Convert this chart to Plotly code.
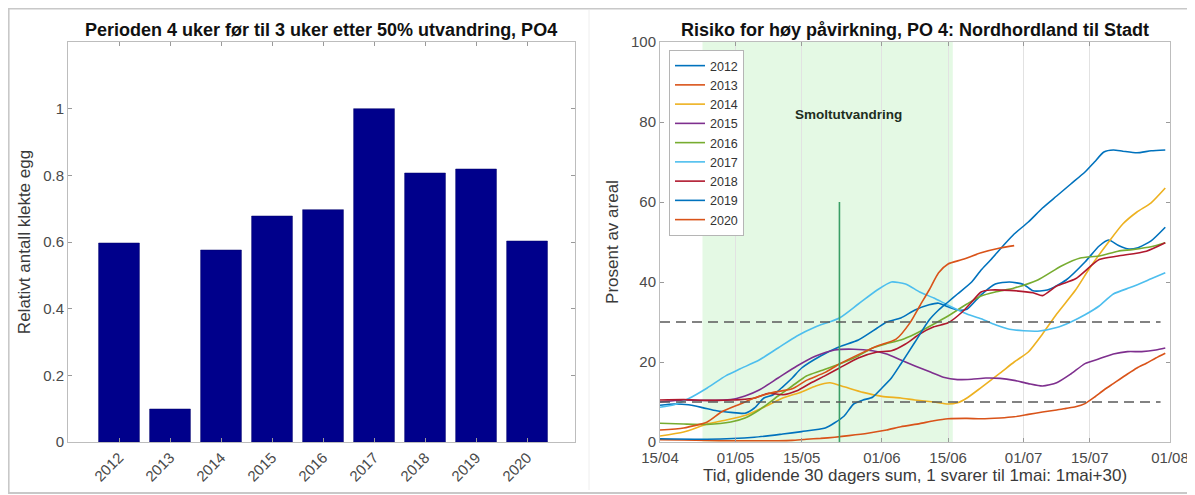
import pandas as pd
import plotly.graph_objects as go

# ---------------- data ----------------
years = ["2012", "2013", "2014", "2015", "2016", "2017", "2018", "2019", "2020"]
rel_eggs = [0.597, 0.099, 0.576, 0.678, 0.697, 1.0, 0.807, 0.819, 0.603]

base_date = "2020-04-15"

d2012 = [0, 3, 6, 9, 12, 15, 18, 20, 22, 24, 26, 28, 30, 34, 38, 42, 46, 48, 51, 54, 57, 59, 61, 63, 65, 68, 71, 74, 77, 79, 82, 86, 90, 93, 95, 97, 99, 101, 104, 107]
v2012 = [9.2, 9.5, 9.3, 8.6, 7.8, 7.4, 7.2, 8.5, 11.0, 11.8, 13.8, 16.0, 18.5, 21.5, 23.8, 25.5, 28.5, 30.0, 31.0, 33.0, 34.3, 34.7, 33.8, 33.0, 33.2, 36.8, 39.5, 40.0, 39.4, 37.8, 38.0, 40.5, 45.0, 49.0, 50.5, 49.2, 48.3, 48.5, 50.3, 53.7]

d2013 = [0, 5, 10, 15, 20, 25, 28, 31, 34, 37, 40, 44, 48, 51, 55, 58, 61, 65, 68, 72, 75, 78, 81, 84, 86, 88, 90, 92, 94, 96, 99, 101, 103, 105, 107]
v2013 = [0.6, 0.5, 0.4, 0.3, 0.3, 0.3, 0.4, 0.7, 0.9, 1.2, 1.6, 2.2, 3.0, 3.8, 4.6, 5.3, 5.8, 5.9, 5.8, 6.0, 6.3, 6.9, 7.5, 8.0, 8.4, 8.8, 9.6, 11.2, 13.0, 14.6, 17.0, 18.5, 19.7, 21.0, 22.2]

d2014 = [0, 5, 10, 14, 18, 22, 26, 30, 33, 36, 39, 43, 47, 51, 54, 58, 61, 63, 65, 68, 72, 75, 78, 81, 84, 88, 91, 95, 98, 101, 104, 107]
v2014 = [1.5, 2.5, 4.5, 5.5, 6.6, 8.7, 11.0, 12.5, 14.0, 14.8, 13.8, 12.4, 11.4, 11.0, 10.5, 10.0, 9.5, 9.8, 11.0, 13.6, 17.2, 20.0, 22.5, 27.0, 32.0, 38.0, 43.5, 50.0, 54.5, 57.5, 59.8, 63.5]

d2015 = [0, 5, 10, 15, 18, 21, 25, 29, 33, 37, 41, 45, 48, 51, 54, 57, 60, 63, 66, 69, 72, 75, 78, 81, 84, 87, 90, 93, 96, 99, 102, 105, 107]
v2015 = [10.0, 10.5, 10.4, 10.6, 11.5, 13.0, 16.0, 19.0, 21.5, 23.0, 23.2, 22.8, 22.0, 20.5, 19.0, 17.6, 16.2, 15.6, 15.7, 16.0, 15.9, 15.4, 14.6, 14.0, 14.8, 17.0, 19.6, 20.8, 22.0, 22.6, 22.6, 23.0, 23.5]

d2016 = [0, 5, 10, 15, 18, 21, 25, 28, 31, 34, 38, 42, 45, 48, 51, 54, 58, 61, 65, 68, 71, 75, 80, 85, 89, 93, 97, 100, 104, 107]
v2016 = [4.7, 4.5, 4.4, 5.0, 6.0, 8.0, 11.5, 14.0, 16.5, 17.8, 19.5, 21.5, 23.5, 24.6, 25.5, 27.0, 29.5, 31.5, 34.5, 36.5, 37.5, 38.5, 40.5, 44.0, 46.0, 46.5, 47.7, 48.1, 48.8, 49.8]

d2017 = [0, 3, 6, 10, 14, 17, 21, 25, 29, 33, 38, 42, 46, 49, 52, 55, 58, 61, 65, 68, 71, 74, 77, 80, 84, 87, 90, 93, 96, 100, 104, 107]
v2017 = [8.7, 9.3, 10.8, 13.5, 16.6, 18.3, 20.5, 23.5, 26.5, 28.8, 31.0, 34.5, 38.0, 40.0, 39.5, 37.5, 36.0, 34.2, 32.0, 30.8, 29.3, 28.2, 27.8, 27.7, 28.6, 30.0, 31.8, 34.0, 37.0, 38.8, 40.8, 42.3]

d2018 = [0, 5, 10, 15, 17, 20, 23, 26, 29, 32, 35, 38, 42, 46, 49, 52, 55, 58, 61, 64, 66, 68, 70, 74, 79, 81, 84, 88, 93, 97, 103, 107]
v2018 = [10.5, 10.6, 10.4, 10.5, 10.6, 11.0, 12.2, 11.8, 12.8, 14.8, 16.6, 18.5, 21.0, 22.5, 22.8, 24.5, 27.0, 28.8, 29.8, 32.5, 35.0, 37.5, 38.0, 37.9, 37.3, 36.6, 39.0, 40.8, 45.6, 46.5, 47.7, 49.8]

d2019 = [0, 10, 20, 26, 30, 35, 37, 39, 41, 43, 45, 47, 49, 51, 54, 57, 59, 61, 63, 66, 68, 70, 73, 75, 78, 81, 84, 87, 90, 92, 94, 96, 98, 101, 104, 107]
v2019 = [0.8, 0.7, 1.2, 2.0, 2.6, 3.5, 4.8, 6.5, 9.5, 10.5, 11.2, 13.5, 16.0, 19.5, 25.0, 30.5, 33.0, 35.0, 37.0, 40.0, 43.0, 45.5, 49.5, 52.0, 55.0, 58.5, 61.5, 64.5, 67.5, 70.0, 72.5, 73.0, 72.7, 72.3, 72.8, 73.0]

d2020 = [0, 5, 10, 13, 17, 20, 24, 28, 31, 35, 38, 43, 46, 50, 53, 55, 57, 59, 61, 64, 68, 72, 75]
v2020 = [3.0, 3.5, 5.0, 7.5, 9.5, 11.0, 12.4, 13.3, 15.4, 17.4, 19.5, 22.4, 24.0, 25.7, 29.9, 34.0, 38.0, 42.3, 44.5, 45.6, 47.3, 48.5, 49.1]

series_days = [d2012, d2013, d2014, d2015, d2016, d2017, d2018, d2019, d2020]
series_vals = [v2012, v2013, v2014, v2015, v2016, v2017, v2018, v2019, v2020]
line_colors = ["#0072BD", "#D95319", "#EDB120", "#7E2F8E", "#77AC30",
               "#4DBEEE", "#B0182E", "#0072BD", "#D95319"]

tick_dates = ["2020-04-15", "2020-05-01", "2020-05-15", "2020-06-01",
              "2020-06-15", "2020-07-01", "2020-07-15", "2020-08-01"]
tick_text = ["15/04", "01/05", "15/05", "01/06", "15/06", "01/07", "15/07", "01/08"]

smolt_start, smolt_end = "2020-04-24", "2020-06-16"
smolt_marker_date, smolt_marker_top = "2020-05-23", 60
threshold_levels = [10, 30]
dash_end = "2020-07-30"

# ---------------- figure ----------------
# the page body has an 8px default margin; size the figure so it fills the window
OFF = 8
W, H = 1195 - OFF, 495 - OFF
FONT = "Liberation Sans, Arial, Helvetica, sans-serif"


def px_x(p):
    return (p - OFF) / W


def px_y(p):
    return 1 - (p - OFF) / H


fig = go.Figure()

fig.add_trace(go.Bar(
    x=[int(y) for y in years], y=rel_eggs, width=0.8,
    marker=dict(color="#00008B", line=dict(color="#00006a", width=0.5)),
    xaxis="x", yaxis="y", showlegend=False,
))

base = pd.Timestamp(base_date)
for name, days, vals, col in zip(years, series_days, series_vals, line_colors):
    dates = [base + pd.Timedelta(days=d) for d in days]
    fig.add_trace(go.Scatter(
        x=dates, y=vals, mode="lines", name=name,
        line=dict(color=col, width=1.6, shape="spline", smoothing=0.6),
        xaxis="x2", yaxis="y2",
    ))

axis_common = dict(
    showline=True, linecolor="#bdbdbd", linewidth=1, mirror="allticks",
    ticks="inside", ticklen=4, tickcolor="#9a9a9a",
    tickfont=dict(family=FONT, size=15, color="#4a4a4a"),
    zeroline=False, automargin=False,
)
title_font = dict(family=FONT, size=17, color="#3a3a3a")

fig.update_layout(
    width=W, height=H,
    margin=dict(l=0, r=0, t=0, b=0, autoexpand=False),
    paper_bgcolor="white", plot_bgcolor="white",
    font=dict(family=FONT),
    xaxis=dict(
        domain=[px_x(68), px_x(575)], anchor="y",
        range=[2011.0, 2020.94],
        tickmode="array", tickvals=[int(y) for y in years], ticktext=years,
        tickangle=-45, showgrid=False, **axis_common,
    ),
    yaxis=dict(
        domain=[px_y(442), px_y(42)], anchor="x",
        range=[0, 1.2], tickvals=[0, 0.2, 0.4, 0.6, 0.8, 1.0],
        ticktext=["0", "0.2", "0.4", "0.6", "0.8", "1"],
        showgrid=False,
        title=dict(text="Relativt antall klekte egg", standoff=8, font=title_font),
        **axis_common,
    ),
    xaxis2=dict(
        domain=[px_x(660), px_x(1170)], anchor="y2", type="date",
        range=["2020-04-15", "2020-08-01"],
        tickmode="array", tickvals=tick_dates, ticktext=tick_text,
        showgrid=True, gridcolor="#e2e2e2", gridwidth=1, ticklabelstandoff=2,
        title=dict(text="Tid, glidende 30 dagers sum, 1 svarer til 1mai: 1mai+30)",
                   standoff=2, font=title_font),
        **axis_common,
    ),
    yaxis2=dict(
        domain=[px_y(442), px_y(42)], anchor="x2",
        range=[0, 100], tickvals=[0, 20, 40, 60, 80, 100],
        showgrid=False,
        title=dict(text="Prosent av areal", standoff=8, font=title_font),
        **axis_common,
    ),
    legend=dict(
        x=px_x(669), y=px_y(50), xanchor="left", yanchor="top",
        bgcolor="white", bordercolor="#b5b5b5", borderwidth=1,
        font=dict(family=FONT, size=12.5, color="#333333"),
        itemwidth=30, tracegroupgap=0,
    ),
    showlegend=True,
)

# shaded smolt migration period
fig.add_shape(type="rect", xref="x2", yref="y2", x0=smolt_start, x1=smolt_end,
              y0=0, y1=100, fillcolor="#e4f9e4", line=dict(width=0), layer="below")
# vertical marker
fig.add_shape(type="line", xref="x2", yref="y2", x0=smolt_marker_date, x1=smolt_marker_date,
              y0=0, y1=smolt_marker_top, line=dict(color="#3a9e66", width=1.6), layer="above")
# threshold dashed lines
for lev in threshold_levels:
    fig.add_shape(type="line", xref="x2", yref="y2", x0=base_date, x1=dash_end,
                  y0=lev, y1=lev, line=dict(color="#5a5a5a", width=1.4, dash="10px,6px"),
                  layer="above")

fig.add_annotation(x="2020-05-25", y=82, xref="x2", yref="y2", text="<b>Smoltutvandring</b>",
                   showarrow=False, font=dict(family=FONT, size=13.5, color="#1e2e1e"))

# titles
fig.add_annotation(x=px_x(321), y=px_y(30), xref="paper", yref="paper",
                   text="<b>Perioden 4 uker før til 3 uker etter 50% utvandring, PO4</b>",
                   showarrow=False, xanchor="center", yanchor="middle",
                   font=dict(family=FONT, size=18, color="#111111"))
fig.add_annotation(x=px_x(915), y=px_y(30), xref="paper", yref="paper",
                   text="<b>Risiko for høy påvirkning, PO 4: Nordhordland til Stadt</b>",
                   showarrow=False, xanchor="center", yanchor="middle",
                   font=dict(family=FONT, size=18, color="#111111"))

# outer frame and faint separator
fig.add_shape(type="rect", xref="paper", yref="paper", x0=0.0005, x1=px_x(1192),
              y0=px_y(493), y1=0.999, line=dict(color="#c8c8c8", width=2))
fig.add_shape(type="line", xref="paper", yref="paper", x0=px_x(589), x1=px_x(589),
              y0=px_y(490), y1=px_y(10), line=dict(color="#eeeeee", width=1))

fig.write_html("out.html")
